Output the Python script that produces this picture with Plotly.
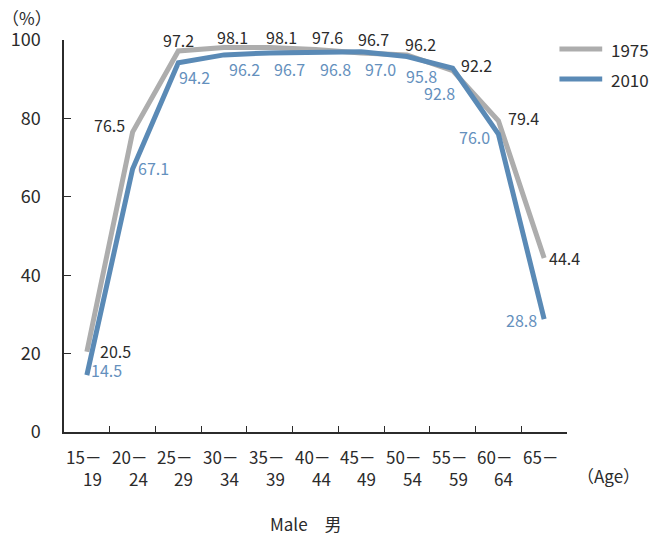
import plotly.graph_objects as go

# Labour force participation rate by age group, males (%)
age_groups = ["15-19", "20-24", "25-29", "30-34", "35-39", "40-44",
              "45-49", "50-54", "55-59", "60-64", "65-"]
age_from = ["15－", "20－", "25－", "30－", "35－", "40－",
            "45－", "50－", "55－", "60－", "65－"]
age_to = ["19", "24", "29", "34", "39", "44", "49", "54", "59", "64", ""]
series_names = ["1975", "2010"]
rate_1975 = [20.5, 76.5, 97.2, 98.1, 98.1, 97.6, 96.7, 96.2, 92.2, 79.4, 44.4]
rate_2010 = [14.5, 67.1, 94.2, 96.2, 96.7, 96.8, 97.0, 95.8, 92.8, 76.0, 28.8]
y_ticks = [0, 20, 40, 60, 80, 100]

FONT = "Noto Sans CJK JP"
DARK = "#2b2b2b"
GREY = "#adadad"
BLUE = "#5a8ab6"
BLUE_TEXT = "#6490bd"

# label offsets (px) for each point's value text
off_1975 = [(29, 1), (-23, 7), (0, 11), (8, 10), (12, 10), (12, 12),
            (12, 14), (14, 11), (24, 6), (25, 3), (20, 0)]
off_2010 = [(20, 5), (21, 1), (16, -14), (20, -14), (20, -16), (20, -16),
            (19, -17), (15, -20), (-13, -25), (-24, -3), (-23, -1)]

fig = go.Figure()
for name, vals, color in [(series_names[0], rate_1975, GREY),
                          (series_names[1], rate_2010, BLUE)]:
    fig.add_trace(go.Scatter(
        x=age_groups, y=vals, mode="lines", name=name,
        line=dict(color=color, width=5), showlegend=False,
        cliponaxis=False, hoverinfo="skip"))

annotations = []
for vals, offs, color in [(rate_1975, off_1975, DARK),
                          (rate_2010, off_2010, BLUE_TEXT)]:
    for cat, v, (dx, dy) in zip(age_groups, vals, offs):
        annotations.append(dict(
            x=cat, y=v, xref="x", yref="y", text=f"{v:.1f}",
            showarrow=False, xshift=dx, yshift=dy,
            font=dict(family=FONT, size=16, color=color)))

# two-line category labels under the axis, right-aligned
for cat, top, bottom in zip(age_groups, age_from, age_to):
    label = f"{top}<br>{bottom}" if bottom else top
    annotations.append(dict(
        x=cat, y=0, xref="x", yref="paper", text=label, showarrow=False,
        align="right", xanchor="right", yanchor="top", xshift=17, yshift=-10,
        font=dict(family=FONT, size=17, color=DARK)))

# axis captions
annotations += [
    dict(x=0, y=1, xref="paper", yref="paper", text="（%）", showarrow=False,
         xanchor="center", yanchor="middle", xshift=-37, yshift=23,
         font=dict(family=FONT, size=17, color=DARK)),
    dict(x=1, y=0, xref="paper", yref="paper", text="（Age）", showarrow=False,
         xanchor="center", yanchor="middle", xshift=41, yshift=-43,
         font=dict(family=FONT, size=17, color=DARK)),
    dict(x=0.482, y=0, xref="paper", yref="paper", text="Male　男",
         showarrow=False, xanchor="center", yanchor="middle", yshift=-91,
         font=dict(family=FONT, size=17, color=DARK)),
]

# legend drawn as line samples with their series names
shapes = []
for i, (name, color) in enumerate([(series_names[0], GREY), (series_names[1], BLUE)]):
    yp = 0.977 - i * 0.0765
    shapes.append(dict(type="line", xref="paper", yref="paper",
                       x0=0.985, x1=1.07, y0=yp, y1=yp,
                       line=dict(color=color, width=5)))
    annotations.append(dict(x=1.083, y=yp, xref="paper", yref="paper",
                            text=name, showarrow=False, xanchor="left",
                            yanchor="middle",
                            font=dict(family=FONT, size=17, color=DARK)))

fig.update_layout(
    width=653, height=535,
    margin=dict(l=64, r=86, t=40, b=103),
    paper_bgcolor="white", plot_bgcolor="white",
    font=dict(family=FONT, size=17, color=DARK),
    annotations=annotations, shapes=shapes,
    xaxis=dict(type="category", categoryorder="array", categoryarray=age_groups,
               range=[-0.5, 10.5], tickson="boundaries", ticks="inside",
               ticklen=6, tickcolor=DARK, showline=True, linecolor=DARK,
               linewidth=1.5, showgrid=False, showticklabels=False,
               zeroline=False, fixedrange=True),
    yaxis=dict(range=[0, 100], tickvals=y_ticks, ticks="inside", ticklen=7,
               tickcolor=DARK, showline=True, linecolor=DARK, linewidth=1.5,
               showgrid=False, zeroline=False, ticklabelstandoff=18,
               tickfont=dict(family=FONT, size=18, color=DARK),
               fixedrange=True),
)

fig.write_html("out.html")
